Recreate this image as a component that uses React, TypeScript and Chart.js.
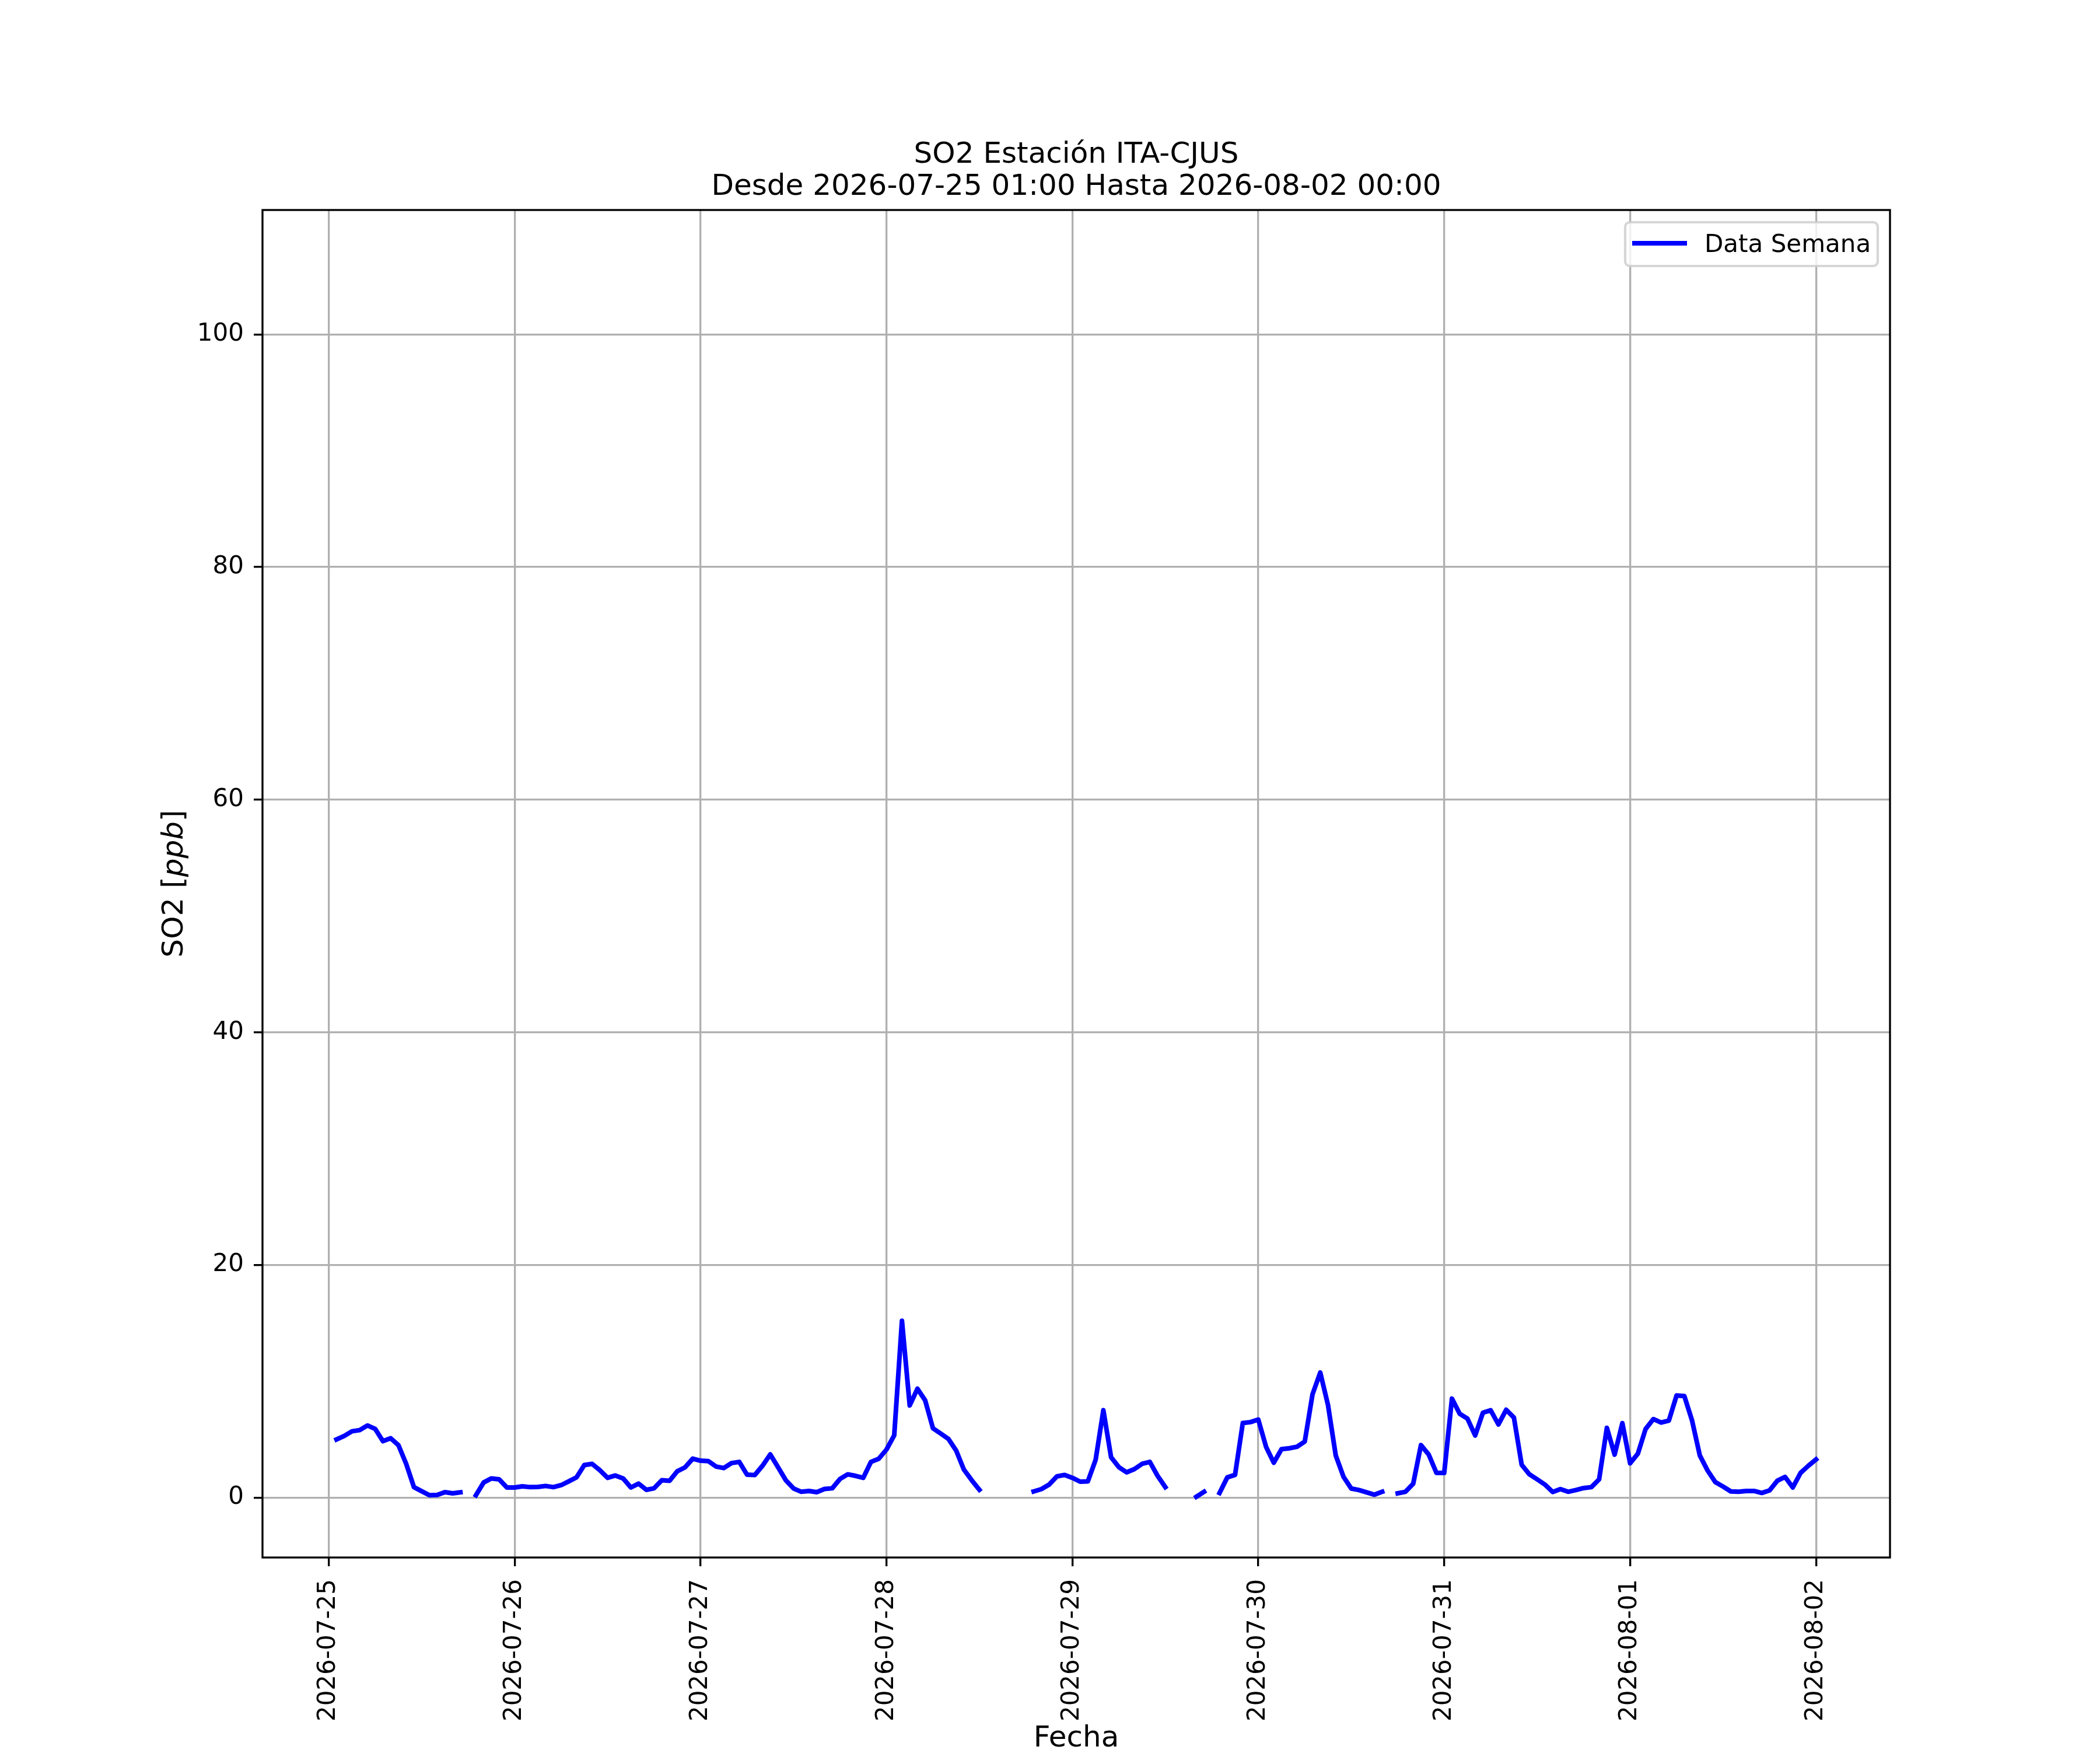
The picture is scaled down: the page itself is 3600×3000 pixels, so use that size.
import React, { useEffect, useRef } from 'react';
import { Chart, registerables, ChartConfiguration, Plugin } from 'chart.js';

Chart.register(...registerables);

// hourly SO2 readings [ppb], one array per day (01:00 .. 24:00), null = no data
const so2Jul25 = [5.0, 5.3, 5.7, 5.8, 6.2, 5.9, 4.85, 5.1, 4.5, 2.9, 0.9, 0.55, 0.2, 0.23, 0.47, 0.37, 0.45, null, 0.2, 1.3, 1.65, 1.57, 0.87, 0.87];
const so2Jul26 = [0.97, 0.9, 0.92, 1.0, 0.9, 1.07, 1.4, 1.75, 2.8, 2.9, 2.35, 1.7, 1.9, 1.65, 0.87, 1.2, 0.67, 0.8, 1.5, 1.45, 2.27, 2.6, 3.35, 3.17];
const so2Jul27 = [3.14, 2.67, 2.54, 2.97, 3.07, 1.97, 1.94, 2.74, 3.71, 2.62, 1.5, 0.79, 0.5, 0.57, 0.47, 0.74, 0.8, 1.6, 2.0, 1.87, 1.7, 3.07, 3.34, 4.13];
const so2Jul28 = [5.35, 15.2, 7.92, 9.36, 8.35, 5.96, 5.51, 5.04, 4.04, 2.4, 1.5, 0.67, null, null, null, null, null, null, 0.53, 0.73, 1.12, 1.82, 1.95, 1.7];
const so2Jul29 = [1.37, 1.4, 3.24, 7.51, 3.46, 2.62, 2.17, 2.45, 2.9, 3.07, 1.87, 0.9, null, null, null, 0.07, 0.5, null, 0.4, 1.74, 1.95, 6.41, 6.49, 6.71];
const so2Jul30 = [4.37, 3.0, 4.17, 4.24, 4.37, 4.82, 8.88, 10.75, 7.96, 3.62, 1.79, 0.78, 0.65, 0.45, 0.25, 0.5, null, 0.37, 0.5, 1.2, 4.51, 3.7, 2.12, 2.12];
const so2Jul31 = [8.51, 7.21, 6.79, 5.34, 7.3, 7.51, 6.29, 7.55, 6.88, 2.83, 2.0, 1.57, 1.12, 0.48, 0.73, 0.5, 0.65, 0.82, 0.9, 1.57, 6.0, 3.7, 6.4, 2.95];
const so2Aug01 = [3.78, 5.9, 6.75, 6.45, 6.62, 8.78, 8.73, 6.62, 3.62, 2.33, 1.33, 0.95, 0.53, 0.5, 0.57, 0.57, 0.4, 0.62, 1.45, 1.78, 0.87, 2.12, 2.73, 3.28];

const dayLabels = ['2026-07-25', '2026-07-26', '2026-07-27', '2026-07-28', '2026-07-29', '2026-07-30', '2026-07-31', '2026-08-01', '2026-08-02'];
const dayTicks = [0, 24, 48, 72, 96, 120, 144, 168, 192]; // hours since 2026-07-25 00:00
const yTicks = [0, 20, 40, 60, 80, 100];

const titleLines = ['SO2 Estación ITA-CJUS', 'Desde 2026-07-25 01:00 Hasta 2026-08-02 00:00'];
const seriesLabel = 'Data Semana';

const FONT = '"DejaVu Sans"';
const LINE_W = 8;
const SPINE_W = 3.33;

const hourly = [so2Jul25, so2Jul26, so2Jul27, so2Jul28, so2Jul29, so2Jul30, so2Jul31, so2Aug01].flat();
const points = hourly.map((v, i) => ({ x: i + 1, y: v }));

// matplotlib-style 5% margins around the hours 1..192
const xMin = 1 - 0.05 * 191;
const xMax = 192 + 0.05 * 191;

const decorPlugin: Plugin<'line'> = {
  id: 'decor',
  afterDatasetsDraw(chart) {
    const { ctx, chartArea: a } = chart;
    ctx.save();
    ctx.strokeStyle = '#000';
    ctx.lineWidth = SPINE_W;
    ctx.strokeRect(a.left, a.top, a.right - a.left, a.bottom - a.top);
    ctx.restore();
  },
  afterDraw(chart) {
    const { ctx, chartArea: a } = chart;
    const cx = (a.left + a.right) / 2;
    const cy = (a.top + a.bottom) / 2;
    ctx.save();
    ctx.fillStyle = '#000';

    // title
    ctx.font = `50px ${FONT}`;
    ctx.textAlign = 'center';
    ctx.textBaseline = 'alphabetic';
    ctx.fillText(titleLines[0], cx, 279);
    ctx.fillText(titleLines[1], cx, 334);

    // x label
    ctx.fillText('Fecha', cx, 2994);

    // y label with italic unit
    ctx.save();
    ctx.translate(313, cy);
    ctx.rotate(-Math.PI / 2);
    ctx.textAlign = 'left';
    const parts: [string, string][] = [
      ['SO2 [', `50px ${FONT}`],
      ['ppb', `italic 50px ${FONT}`],
      [']', `50px ${FONT}`],
    ];
    let total = 0;
    for (const [t, f] of parts) {
      ctx.font = f;
      total += ctx.measureText(t).width;
    }
    let px = -total / 2;
    for (const [t, f] of parts) {
      ctx.font = f;
      ctx.fillText(t, px, 0);
      px += ctx.measureText(t).width;
    }
    ctx.restore();

    // legend (upper right, inside axes)
    const bx0 = 2786, by0 = 381, bx1 = 3219, by1 = 456;
    ctx.beginPath();
    ctx.roundRect(bx0, by0, bx1 - bx0, by1 - by0, 8);
    ctx.fillStyle = 'rgba(255,255,255,0.8)';
    ctx.fill();
    ctx.strokeStyle = 'rgba(204,204,204,0.8)';
    ctx.lineWidth = 4.17;
    ctx.stroke();
    ctx.beginPath();
    ctx.moveTo(2802, 417);
    ctx.lineTo(2888, 417);
    ctx.strokeStyle = '#0000ff';
    ctx.lineWidth = LINE_W;
    ctx.lineCap = 'square';
    ctx.stroke();
    ctx.fillStyle = '#000';
    ctx.font = `42px ${FONT}`;
    ctx.textAlign = 'left';
    ctx.fillText(seriesLabel, 2922, 432);
    ctx.restore();
  },
};

const App: React.FC = () => {
  const canvasRef = useRef<HTMLCanvasElement | null>(null);

  useEffect(() => {
    document.body.style.margin = '0';
    if (!canvasRef.current) return;
    const ctx = canvasRef.current.getContext('2d');
    if (!ctx) return;

    Chart.defaults.font.family = FONT;

    const config: ChartConfiguration<'line'> = {
      type: 'line',
      data: {
        datasets: [
          {
            label: seriesLabel,
            data: points as any,
            borderColor: '#0000ff',
            borderWidth: LINE_W,
            borderCapStyle: 'square',
            borderJoinStyle: 'round',
            pointRadius: 0,
            tension: 0,
            spanGaps: false,
            fill: false,
          },
        ],
      },
      options: {
        responsive: false,
        animation: false,
        devicePixelRatio: 1,
        layout: { padding: { left: 0, right: 360, top: 360, bottom: 0 } },
        plugins: {
          legend: { display: false },
          title: { display: false },
          tooltip: { enabled: false },
        },
        scales: {
          x: {
            type: 'linear',
            min: xMin,
            max: xMax,
            afterFit: (s) => {
              s.height = 330;
            },
            afterBuildTicks: (s) => {
              s.ticks = dayTicks.map((v) => ({ value: v }));
            },
            ticks: {
              autoSkip: false,
              maxRotation: 90,
              minRotation: 90,
              padding: 22,
              color: '#000',
              font: { size: 42, family: FONT },
              callback: (v) => dayLabels[Math.round(Number(v) / 24)] ?? '',
            },
            grid: {
              color: '#b0b0b0',
              lineWidth: SPINE_W,
              tickColor: '#000',
              tickLength: 15,
              tickWidth: SPINE_W,
            },
            border: { display: false },
          },
          y: {
            type: 'linear',
            min: -5.15,
            max: 110.7,
            afterFit: (s) => {
              s.width = 450;
            },
            afterBuildTicks: (s) => {
              s.ticks = yTicks.map((v) => ({ value: v }));
            },
            ticks: {
              padding: 17,
              color: '#000',
              font: { size: 42, family: FONT },
              callback: (v) => String(v),
            },
            grid: {
              color: '#b0b0b0',
              lineWidth: SPINE_W,
              tickColor: '#000',
              tickLength: 15,
              tickWidth: SPINE_W,
            },
            border: { display: false },
          },
        },
      },
      plugins: [decorPlugin],
    };

    const chart = new Chart(ctx, config);
    return () => {
      chart.destroy();
    };
  }, []);

  return (
    <div>
      <canvas ref={canvasRef} width={3600} height={3000} style={{ width: 3600, height: 3000, display: 'block' }}></canvas>
    </div>
  );
};

export default App;
